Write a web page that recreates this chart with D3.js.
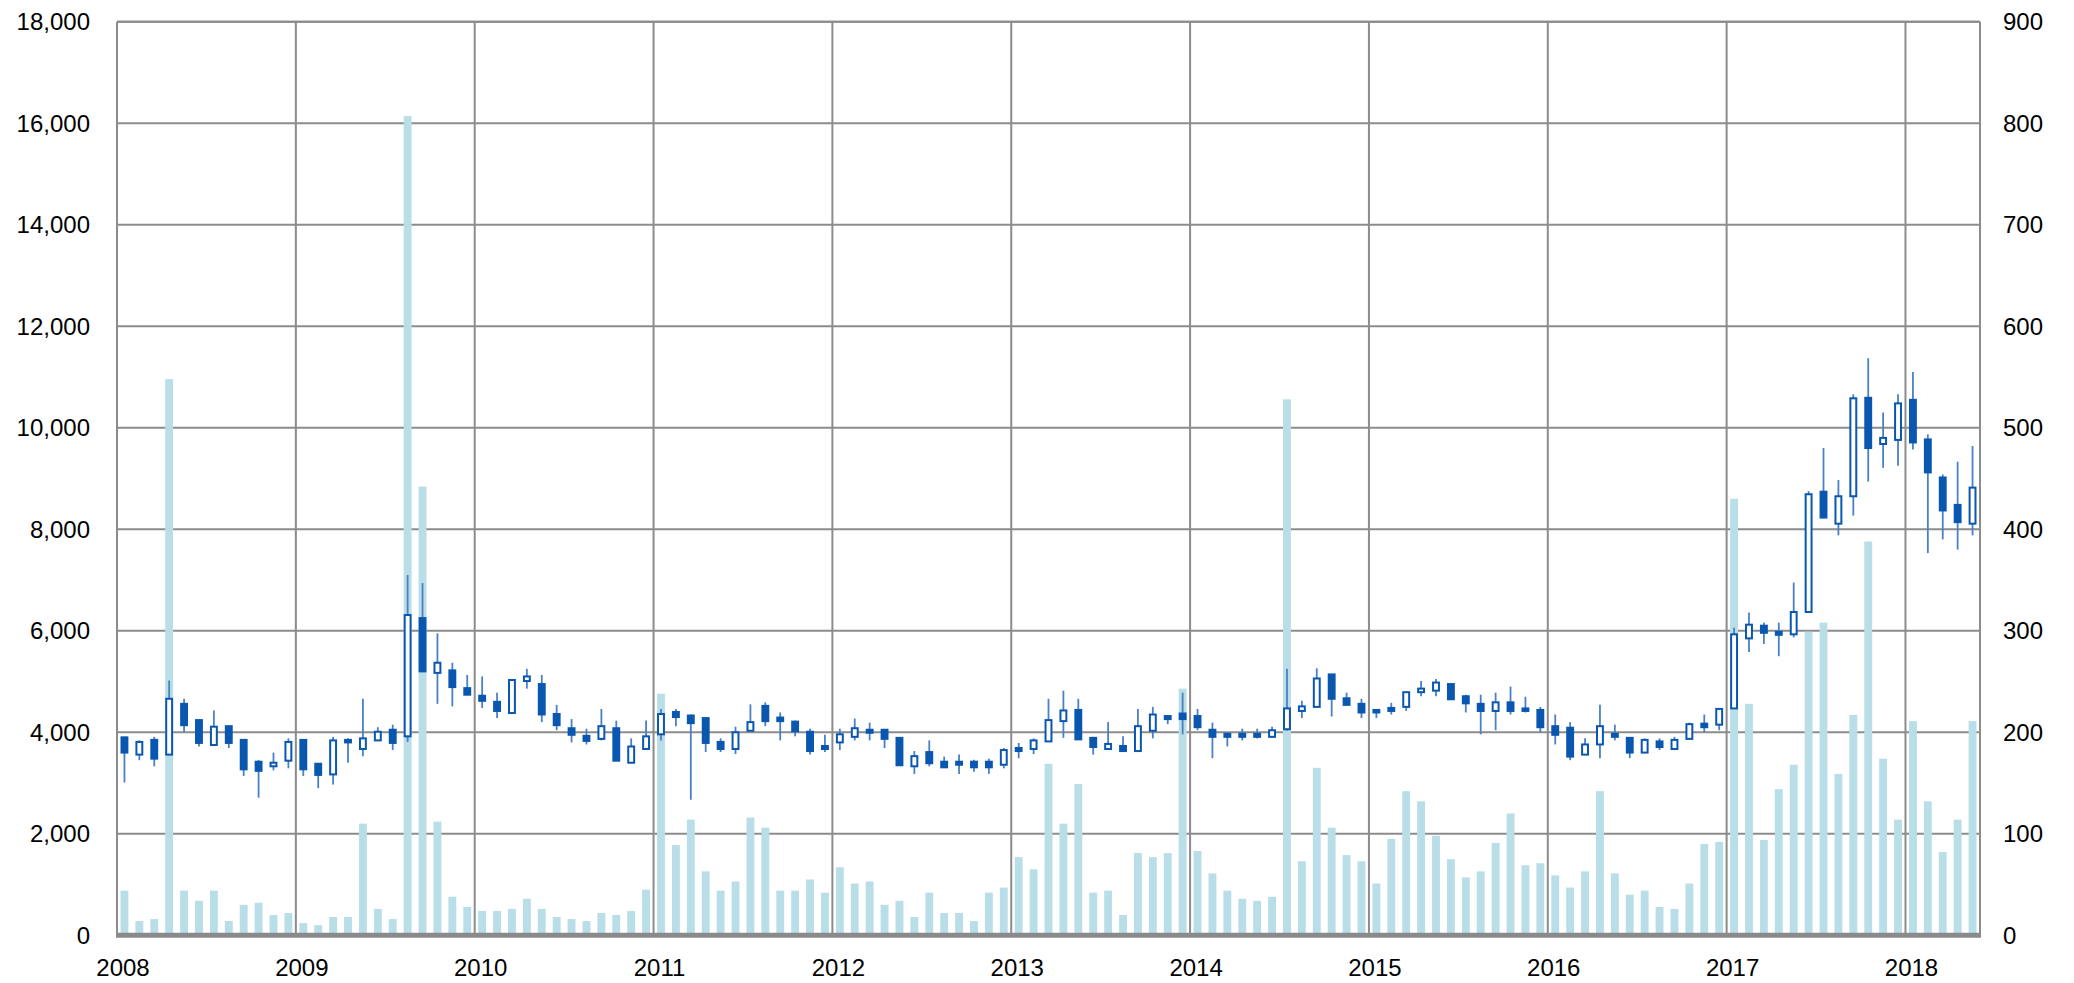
<!DOCTYPE html>
<html>
<head>
<meta charset="utf-8">
<script src="https://cdn.jsdelivr.net/npm/d3@7"></script>
<style>
  html, body { margin: 0; padding: 0; background: #fff; }
  svg { display: block; }
  text { font-family: "Liberation Sans", Arial, sans-serif; fill: #000; }
</style>
</head>
<body>
<svg id="chart" width="2074" height="983"></svg>
<script>
// Monthly candles Jan 2008 – May 2018
const startYear = 2008;
const months = d3.range(125).map(i => `${startYear + Math.floor(i / 12)}-${String(i % 12 + 1).padStart(2, "0")}`);

const open = [3900,3560,3850,3560,4560,4240,3750,4120,3850,3420,3330,3440,
  3850,3380,3170,3850,3670,3840,4050,3920,6250,5170,5220,4870,
  4720,4600,4380,5010,4950,4360,4080,3930,3870,4080,3400,3670,
  3960,4400,4330,4280,3810,3670,4030,4520,4290,4210,4010,3730,
  3800,3910,4050,4050,3890,3330,3610,3420,3420,3420,3420,3360,
  3690,3670,3820,4220,4440,3890,3670,3730,3630,4030,4320,4370,
  4320,4050,3970,3970,3970,3910,4060,4420,4500,5140,4670,4560,
  4440,4480,4500,4790,4820,4950,4710,4560,4420,4590,4470,4440,
  4120,4090,3560,3760,3970,3890,3600,3820,3670,3870,4170,4150,
  4470,5850,6100,5980,5930,6370,8740,8110,8650,10590,9680,9760,
  10550,9770,9020,8480,8110];
const high = [3910,3840,3910,5020,4660,4250,4430,4130,3860,3450,3600,3880,
  3860,3380,3910,3880,4660,4100,4150,7100,6940,5950,5370,5130,
  5100,4780,5030,5250,5130,4540,4260,4070,4460,4230,3880,4230,
  4460,4460,4350,4280,3880,4110,4550,4590,4390,4230,4070,3950,
  4070,4270,4190,4050,3890,3630,3840,3520,3560,3460,3480,3690,
  3790,3880,4660,4820,4660,3910,4200,3920,4460,4500,4330,4780,
  4460,4190,3970,4070,4070,4110,5250,4620,5260,5140,4780,4660,
  4440,4580,4790,5010,5050,4950,4740,4740,4780,4900,4700,4500,
  4350,4200,3880,4540,4150,3890,3880,3880,3910,4190,4350,4460,
  6060,6360,6160,6160,6950,8750,9600,8970,10660,11370,10300,10660,
  11100,9870,9080,9330,9640];
const low = [3010,3450,3330,3560,4000,3720,3750,3690,3140,2710,3250,3290,
  3140,2900,2970,3400,3530,3840,3650,3810,5200,4560,4510,4740,
  4480,4280,4380,4860,4200,4040,3800,3760,3840,3440,3400,3670,
  3840,4120,2670,3610,3610,3570,4030,4120,3840,3920,3560,3610,
  3650,3840,3840,3690,3350,3180,3330,3310,3180,3220,3180,3290,
  3490,3570,3820,3890,3860,3560,3670,3630,3630,3880,4160,3960,
  4040,3490,3720,3840,3880,3910,4030,4280,4500,4310,4540,4280,
  4280,4350,4420,4710,4710,4650,4390,3960,4040,4350,4390,4000,
  3760,3450,3560,3490,3840,3490,3600,3650,3670,3870,4000,4040,
  4470,5580,5740,5500,5870,6370,8230,7880,8270,8940,9210,9250,
  9570,7530,7800,7600,7880];
const close = [3600,3810,3480,4660,4140,3790,4110,3790,3270,3240,3400,3810,
  3270,3160,3840,3800,3880,4010,3790,6310,5200,5370,4890,4740,
  4620,4420,5030,5100,4350,4140,3950,3830,4120,3440,3720,3920,
  4360,4300,4180,3790,3670,4000,4200,4220,4220,4020,3630,3670,
  3960,4080,3990,3870,3350,3530,3390,3310,3360,3310,3310,3650,
  3630,3840,4240,4430,3860,3710,3770,3630,4120,4350,4260,4260,
  4100,3910,3910,3910,3910,4040,4470,4510,5060,4660,4540,4390,
  4390,4420,4790,4860,4980,4650,4570,4420,4590,4420,4420,4100,
  3950,3520,3760,4120,3910,3600,3850,3710,3850,4160,4100,4460,
  5930,6120,5960,5920,6370,8690,8230,8650,10580,9600,9800,10480,
  9710,9120,8370,8140,8820];
const volume = [44,14,16,548,44,34,44,14,30,32,20,22,
  12,10,18,18,110,26,16,807,442,112,38,28,
  24,24,26,36,26,18,16,14,22,20,24,45,
  238,89,114,63,44,53,116,106,44,44,55,42,
  67,51,53,30,34,18,42,22,22,14,42,47,
  77,65,169,110,149,42,44,20,81,77,81,243,
  83,61,44,36,34,38,528,73,165,106,79,73,
  51,95,142,132,98,75,57,63,91,120,69,71,
  59,47,63,142,61,40,44,28,26,51,90,92,
  430,228,94,144,168,299,308,159,217,388,174,114,
  211,132,82,114,211];

const priceTicks = d3.range(0, 18001, 2000);
const volumeTicks = d3.range(0, 901, 100);
const yearLabels = d3.range(2008, 2019).map(String);

// Layout
const plot = { left: 117, right: 1980, top: 21.7, bottom: 935.3 };
const svg = d3.select("#chart");

const x = d3.scaleBand().domain(months).range([plot.left, plot.right]).paddingInner(0.47).paddingOuter(0.235);
const xStep = x.step();
const yPrice = d3.scaleLinear().domain([0, 18000]).range([plot.bottom, plot.top]);
const yVol = d3.scaleLinear().domain([0, 900]).range([plot.bottom, plot.top]);

const gridColor = "#8c8c8c";

// Horizontal gridlines
svg.append("g").selectAll("line").data(priceTicks.slice(1)).join("line")
  .attr("x1", plot.left).attr("x2", plot.right)
  .attr("y1", d => yPrice(d)).attr("y2", d => yPrice(d))
  .attr("stroke", gridColor).attr("stroke-width", 2);

// Year gridlines at each January
const yearStarts = yearLabels.map(y => `${y}-01`);
svg.append("g").selectAll("line").data(yearStarts.slice(1)).join("line")
  .attr("x1", d => x(d) - x.paddingOuter() * xStep).attr("x2", d => x(d) - x.paddingOuter() * xStep)
  .attr("y1", plot.top).attr("y2", plot.bottom)
  .attr("stroke", gridColor).attr("stroke-width", 2);

// Frame: left and right edges
svg.append("line").attr("x1", plot.left).attr("x2", plot.left).attr("y1", plot.top).attr("y2", plot.bottom)
  .attr("stroke", gridColor).attr("stroke-width", 2);
svg.append("line").attr("x1", plot.right).attr("x2", plot.right).attr("y1", plot.top).attr("y2", plot.bottom)
  .attr("stroke", gridColor).attr("stroke-width", 2);

// Volume bars (right axis)
svg.append("g").selectAll("rect").data(months).join("rect")
  .attr("x", d => x(d))
  .attr("width", x.bandwidth())
  .attr("y", (d, i) => yVol(volume[i]))
  .attr("height", (d, i) => plot.bottom - yVol(volume[i]))
  .attr("fill", "#b9dee8");

// Candles
const wickColor = "#4a80c6";
const bodyColor = "#0a57b0";
const candles = svg.append("g").selectAll("g").data(months).join("g");
candles.append("line")
  .attr("x1", d => x(d) + x.bandwidth() / 2).attr("x2", d => x(d) + x.bandwidth() / 2)
  .attr("y1", (d, i) => yPrice(high[i])).attr("y2", (d, i) => yPrice(low[i]))
  .attr("stroke", wickColor).attr("stroke-width", 1.8);
candles.append("rect")
  .attr("x", d => x(d) + 1)
  .attr("width", x.bandwidth() - 2)
  .attr("y", (d, i) => yPrice(Math.max(open[i], close[i])))
  .attr("height", (d, i) => Math.max(1, Math.abs(yPrice(open[i]) - yPrice(close[i]))))
  .attr("fill", (d, i) => close[i] >= open[i] ? "#fff" : bodyColor)
  .attr("stroke", bodyColor).attr("stroke-width", 2);

// Top frame line
svg.append("line").attr("x1", plot.left).attr("x2", plot.right).attr("y1", plot.top).attr("y2", plot.top)
  .attr("stroke", gridColor).attr("stroke-width", 2);

// Bottom axis line
svg.append("line").attr("x1", plot.left - 1).attr("x2", plot.right + 1)
  .attr("y1", plot.bottom).attr("y2", plot.bottom)
  .attr("stroke", "#8a8a8a").attr("stroke-width", 5);

// Left axis labels
const fmt = d3.format(",");
svg.append("g").selectAll("text").data(priceTicks).join("text")
  .attr("x", 90).attr("y", d => yPrice(d))
  .attr("dy", "0.35em").attr("text-anchor", "end")
  .attr("font-size", 24)
  .text(d => fmt(d));

// Right axis labels
svg.append("g").selectAll("text").data(volumeTicks).join("text")
  .attr("x", 2003).attr("y", d => yVol(d))
  .attr("dy", "0.35em").attr("text-anchor", "start")
  .attr("font-size", 24)
  .text(d => d);

// Year labels
svg.append("g").selectAll("text").data(yearLabels).join("text")
  .attr("x", d => x(`${d}-01`) - x.paddingOuter() * xStep + 6)
  .attr("y", 976)
  .attr("text-anchor", "middle")
  .attr("font-size", 24)
  .text(d => d);
</script>
</body>
</html>
